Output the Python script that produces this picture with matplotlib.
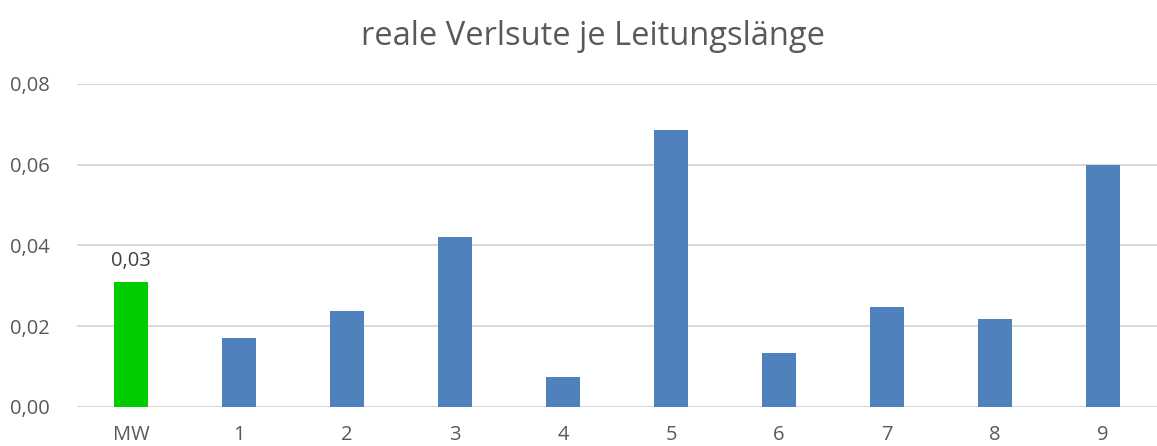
import numpy as np
import matplotlib
matplotlib.use("Agg")
from matplotlib import pyplot as plt

plt.rcParams['font.family'] = ['Open Sans', 'DejaVu Sans']

# data
categories = ["MW", "1", "2", "3", "4", "5", "6", "7", "8", "9"]
values = [0.031, 0.0171, 0.0238, 0.042, 0.0074, 0.0687, 0.0134, 0.0248, 0.0217, 0.0600]
yticks = [0.0, 0.02, 0.04, 0.06, 0.08]

colors = ["#00cc00"] + ["#4f81bd"] * (len(categories) - 1)

fig = plt.figure(figsize=(11.57, 4.46), dpi=100)
ax = fig.add_axes([0.0666, 0.088, 0.9334, 0.7237])

x = np.arange(len(categories))
ax.bar(x, values, width=0.31, color=colors, zorder=3)

ax.set_xlim(-0.5, len(categories) - 0.5)
ax.set_ylim(0, 0.08)
ax.set_yticks(yticks)
ax.set_yticklabels([("%.2f" % t).replace(".", ",") for t in yticks])
ax.set_xticks(x)
ax.set_xticklabels(categories)

ax.grid(axis="y", color="#d9d9d9", linewidth=1.5, zorder=0)
for s in ax.spines.values():
    s.set_visible(False)
ax.tick_params(axis="both", length=0, colors="#595959", labelsize=14.5)
ax.tick_params(axis="y", pad=20)
ax.tick_params(axis="x", pad=13)

# value label on the mean bar
ax.annotate(("%.2f" % values[0]).replace(".", ","), (x[0], values[0]),
            xytext=(0, 8), textcoords="offset points", ha="center", va="bottom",
            fontsize=14.5, color="#404040")

fig.text(0.5127, 0.918, "reale Verlsute je Leitungslänge", ha="center", va="center",
         fontsize=23.5, color="#595959")

fig.savefig("out.png", dpi=100)
